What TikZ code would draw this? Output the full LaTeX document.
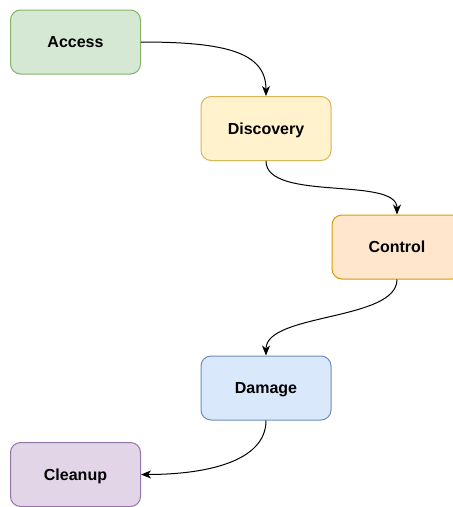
\documentclass[tikz,border=0pt]{standalone}
\usepackage{fontspec}
\setmainfont{Liberation Sans}
\usetikzlibrary{arrows.meta}
\definecolor{accessfill}{HTML}{D5E8D4}\definecolor{accessline}{HTML}{82B366}
\definecolor{discfill}{HTML}{FFF2CC}\definecolor{discline}{HTML}{D6B656}
\definecolor{ctrlfill}{HTML}{FFE6CC}\definecolor{ctrlline}{HTML}{D79B00}
\definecolor{dmgfill}{HTML}{DAE8FC}\definecolor{dmgline}{HTML}{6C8EBF}
\definecolor{cleanfill}{HTML}{E1D5E7}\definecolor{cleanline}{HTML}{9673A6}
\tikzset{
  stagebox/.style={draw, line width=1pt, rounded corners=10pt,
    minimum width=130pt, minimum height=64pt, inner sep=0pt,
    text height=11.5pt, text depth=0pt,
    font=\fontsize{16}{19}\selectfont\bfseries},
  flow/.style={line width=1pt, -{Stealth[length=10pt,width=8pt,inset=3pt]}}
}
\begin{document}
\begin{tikzpicture}[x=1pt,y=-1pt]
  \useasboundingbox (0,0) rectangle (453,507);
  \node[stagebox, fill=accessfill, draw=accessline] (access) at (75.5,42) {Access};
  \node[stagebox, fill=discfill, draw=discline] (disc) at (266,128.5) {Discovery};
  \node[stagebox, fill=ctrlfill, draw=ctrlline] (ctrl) at (397,247) {Control};
  \node[stagebox, fill=dmgfill, draw=dmgline] (dmg) at (266,388) {Damage};
  \node[stagebox, fill=cleanfill, draw=cleanline] (clean) at (75.5,474.5) {Cleanup};
  \draw[flow] (access.east) .. controls (225,42) and (266,52) .. (disc.north);
  \draw[flow] (disc.south) .. controls (266,202) and (397,176) .. (ctrl.north);
  \draw[flow] (ctrl.south) .. controls (397,321) and (266,313) .. (dmg.north);
  \draw[flow] (dmg.south) .. controls (266,462) and (205,474.5) .. (clean.east);
\end{tikzpicture}
\end{document}
